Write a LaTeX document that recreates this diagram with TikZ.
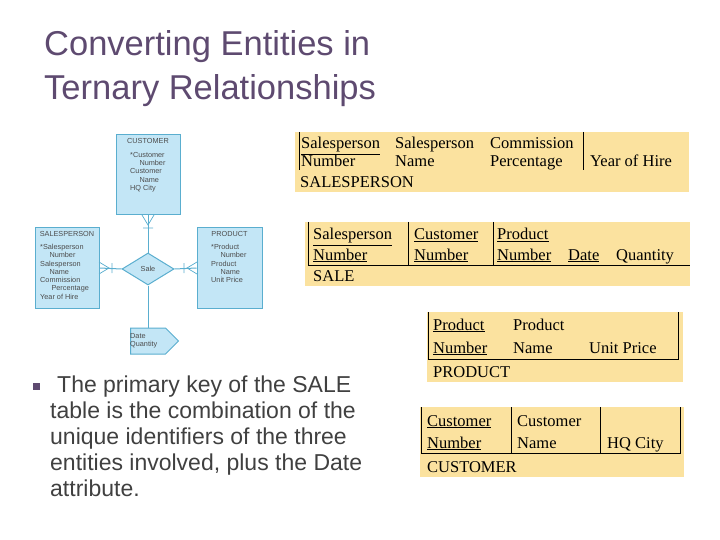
\documentclass[tikz,border=0pt]{standalone}
\usepackage{fontspec}
\setmainfont{Liberation Serif}
\setsansfont{Liberation Sans}
\usetikzlibrary{positioning,shapes.geometric,shapes.symbols}
\definecolor{titlec}{HTML}{5E4A70}
\definecolor{tabfill}{HTML}{FBE29F}
\definecolor{erfill}{HTML}{C3E6F6}
\definecolor{erline}{HTML}{5AAECF}
\tikzset{
  tab/.style={fill=tabfill,draw=none},
  cell/.style={anchor=base west,inner sep=0pt,font=\fontsize{16.5}{16.5}\selectfont},
  ent/.style={draw=erline,fill=erfill,line width=1pt,inner sep=0pt},
  ertxt/.style={font=\sffamily\fontsize{7.3}{8.3}\selectfont,align=left,inner sep=0pt,text=black!70},
  rel/.style={draw=erline,line width=1pt},
}
\begin{document}
\begin{tikzpicture}[x=1pt,y=-1pt]
\useasboundingbox (0,0) rectangle (720,540);
% title
\node[anchor=north west,align=left,text=titlec,font=\sffamily\fontsize{34.5}{44}\selectfont,inner sep=0pt] (title) at (44,30) {Converting Entities in\\Ternary Relationships};

% ER diagram
\node[ent,minimum width=64pt,minimum height=80pt] (cust) at (148,175) {};
\node[ent,minimum width=64pt,minimum height=80pt] (sales) at (67,268) {};
\node[ent,minimum width=65pt,minimum height=80pt] (prod) at (229.5,268) {};
\node[ent,diamond,minimum width=52pt,minimum height=32pt] (sale) at (148,269) {};
\node[ent,signal,signal to=east,minimum width=48pt,minimum height=26pt] (attr) at (148,341) {};
\node[ertxt] at (cust.north) [below=4pt] {CUSTOMER};
\node[ertxt,anchor=north west] at (130,152) {*Customer\\\quad\ Number\\Customer\\\quad\ Name\\HQ City};
\node[ertxt] at (sales.north) [below=4pt] {SALESPERSON};
\node[ertxt,anchor=north west] at (40,244) {*Salesperson\\\quad\ Number\\Salesperson\\\quad\ Name\\Commission\\\quad\ \ Percentage\\Year of Hire};
\node[ertxt] at (prod.north) [below=4pt] {PRODUCT};
\node[ertxt,anchor=north west] at (211,244) {*Product\\\quad\ Number\\Product\\\quad\ Name\\Unit Price};
\node[ertxt] at (sale) {Sale};
\node[ertxt,anchor=west] at (130,341) {Date\\Quantity};
\draw[rel] (sale.north) -- (cust.south);
\draw[rel] (sale.west) -- (sales.east);
\draw[rel] (sale.east) -- (prod.west);
\draw[rel] (sale.south) -- (attr.north);
% crow's feet
\draw[rel,line width=0.7pt] (142,215) -- (148,225) -- (154,215) (143,228) -- (153,228);
\draw[rel,line width=0.7pt] (99,262) -- (109,268) -- (99,274) (112,263) -- (112,273);
\draw[rel,line width=0.7pt] (197,262) -- (187,268) -- (197,274) (184,263) -- (184,273);

% bullet
\fill[titlec] (33,383) rectangle (40,390);
\node[anchor=north west,align=left,text=black!75,font=\sffamily\fontsize{23}{26}\selectfont,inner sep=0pt] (note) at (50,376)
 {\hspace*{7pt}The primary key of the SALE\\table is the combination of the\\unique identifiers of the three\\entities involved, plus the Date\\attribute.};

% SALESPERSON table
\fill[tab] (295,132) rectangle (689,192);
\draw (299,132) -- (299,170) (583,132) -- (583,170);
\node[cell] (sp1) at (301,149) {\underline{Salesperson}};
\node[cell] at (301,167) {Number};
\node[cell] at (395,149) {Salesperson};
\node[cell] at (395,167) {Name};
\node[cell] at (490,149) {Commission};
\node[cell] at (490,167) {Percentage};
\node[cell] at (590,167) {Year of Hire};
\node[cell] at (300,188) {SALESPERSON};

% SALE table
\fill[tab] (305,222) rectangle (690,286);
\draw (308,222) -- (308,265) -- (690,265) (408,222) -- (408,265) (493,222) -- (493,265);
\node[cell] at (313,240) {\underline{Salesperson}};
\node[cell] at (313,260) {\underline{Number}};
\node[cell] at (414,240) {\underline{Customer}};
\node[cell] at (414,260) {\underline{Number}};
\node[cell] at (497,240) {\underline{Product}};
\node[cell] at (497,260) {\underline{Number}};
\node[cell] at (568,260) {\underline{Date}};
\node[cell] at (616,260) {Quantity};
\node[cell] at (313,281) {SALE};

% PRODUCT table
\fill[tab] (427,312) rectangle (683,382);
\draw (428,312) -- (428,359) -- (678,359) -- (678,312);
\node[cell] at (433,330) {\underline{Product}};
\node[cell] at (433,353) {\underline{Number}};
\node[cell] at (513,330) {Product};
\node[cell] at (513,353) {Name};
\node[cell] at (589,353) {Unit Price};
\node[cell] at (433,377) {PRODUCT};

% CUSTOMER table
\fill[tab] (420,407) rectangle (684,477);
\draw (421,407) -- (421,453) -- (680,453) -- (680,407) (511,407) -- (511,453) (600,407) -- (600,453);
\node[cell] at (427,426) {\underline{Customer}};
\node[cell] at (427,448) {\underline{Number}};
\node[cell] at (517,426) {Customer};
\node[cell] at (517,448) {Name};
\node[cell] at (607,448) {HQ City};
\node[cell] at (427,472) {CUSTOMER};
\end{tikzpicture}
\end{document}
